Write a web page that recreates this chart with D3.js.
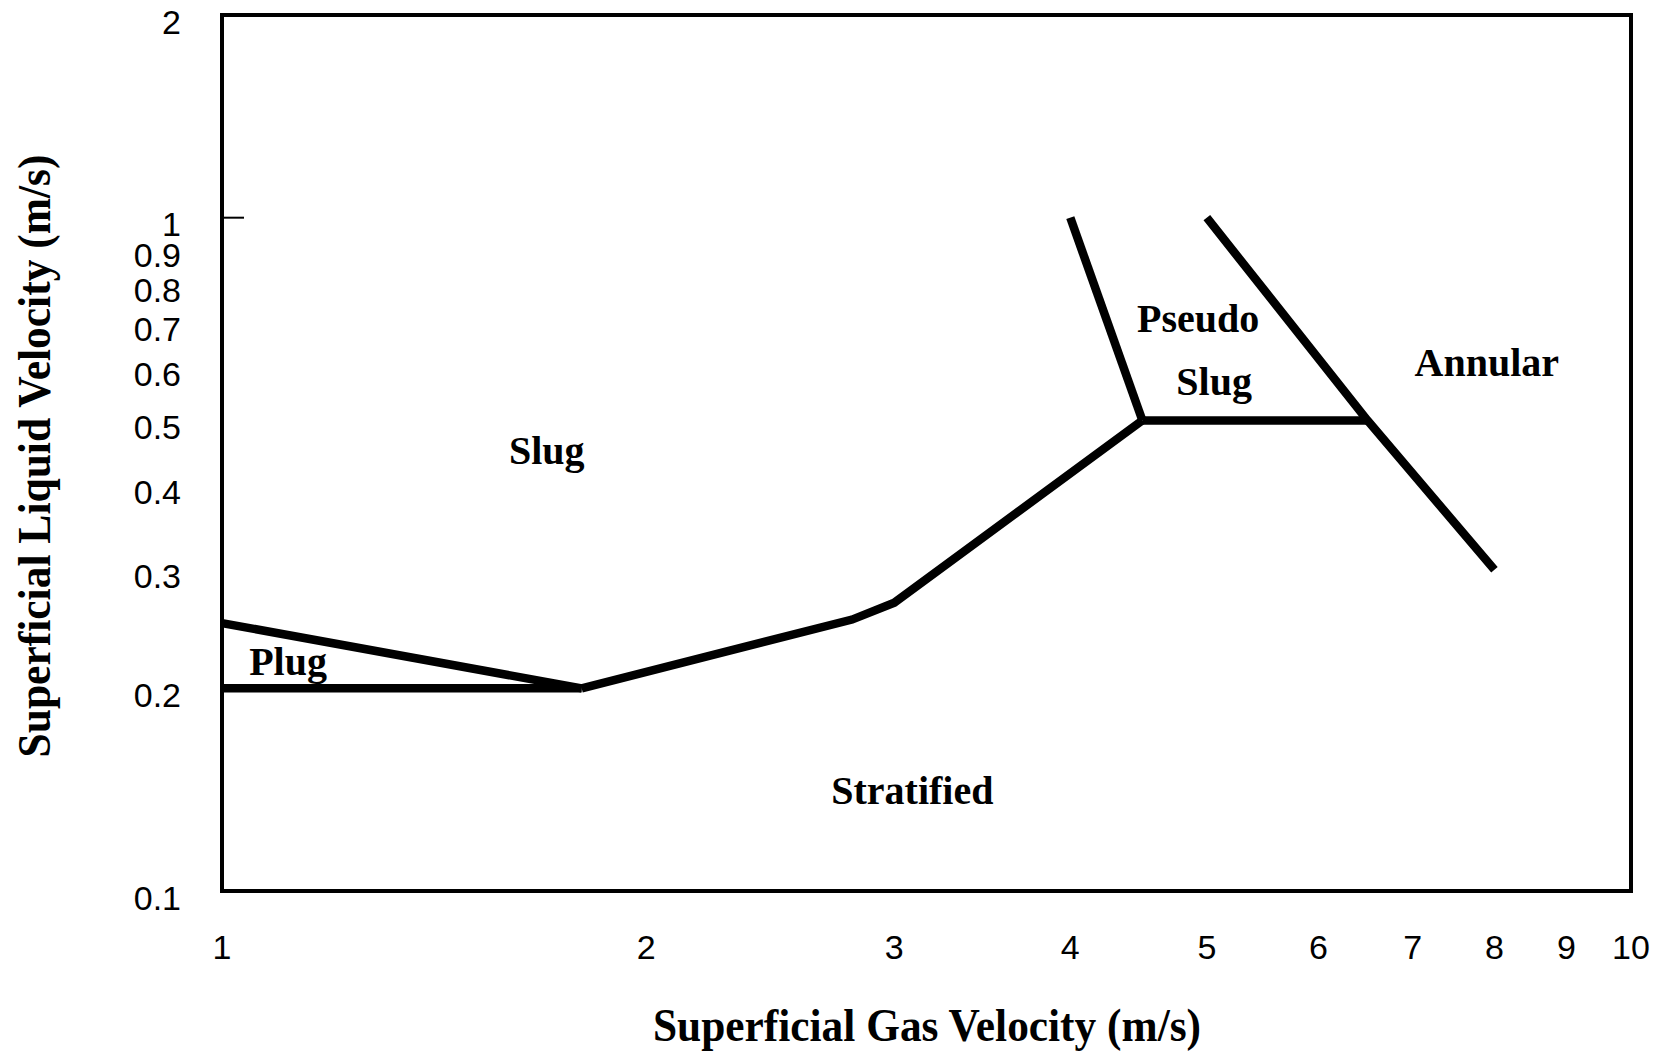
<!DOCTYPE html>
<html>
<head>
<meta charset="utf-8">
<script src="https://cdn.jsdelivr.net/npm/d3@7"></script>
<style>
  body { margin: 0; background: #fff; }
  svg { display: block; }
</style>
</head>
<body>
<script>
// tick values
var xTicks = [1, 2, 3, 4, 5, 6, 7, 8, 9, 10];
var yTicks = [0.1, 0.2, 0.3, 0.4, 0.5, 0.6, 0.7, 0.8, 0.9, 1, 2];

// regime boundaries [gas velocity, liquid velocity]
var plugUpper = [[1, 0.25], [1.8, 0.2]];
var plugLower = [[1, 0.2], [1.8, 0.2]];
var stratBoundary = [[1.8, 0.2], [2.8, 0.253], [3.0, 0.268], [4.5, 0.5]];
var pseudoBase = [[4.5, 0.5], [6.5, 0.5]];
var slugPseudo = [[4.0, 1.0], [4.5, 0.5]];
var annularBoundary = [[5.0, 1.0], [6.5, 0.5], [8.0, 0.3]];

// regime names and where they sit (data coords)
var regimeNames = ["Slug", "Plug", "Stratified", "Pseudo", "Slug", "Annular"];
var regimeX = [1.70, 1.114, 3.09, 4.93, 5.06, 7.90];
var regimeY = [0.431, 0.2094, 0.1347, 0.677, 0.546, 0.582];

var width = 1674, height = 1051;
var margin = {top: 15, right: 43, bottom: 160, left: 222};

var svg = d3.select("body").append("svg")
    .attr("width", width)
    .attr("height", height);

var x = d3.scaleLog()
    .domain([1, 10])
    .range([margin.left, width - margin.right]);
var y = d3.scaleLog()
    .domain([0.1, 2])
    .range([height - margin.bottom, margin.top]);

var sans = "'Liberation Sans', Arial, Helvetica, sans-serif";
var serif = "'Liberation Serif', 'Times New Roman', serif";

// frame
svg.append("rect")
    .attr("x", x(1))
    .attr("y", y(2))
    .attr("width", x(10) - x(1))
    .attr("height", y(0.1) - y(2))
    .attr("fill", "none")
    .attr("stroke", "#000")
    .attr("stroke-width", 4);

// single inward tick at 1
svg.append("line")
    .attr("x1", x(1)).attr("x2", x(1) + 22)
    .attr("y1", y(1)).attr("y2", y(1))
    .attr("stroke", "#000")
    .attr("stroke-width", 2);

// y tick labels
svg.append("g")
    .selectAll("text")
    .data(yTicks)
    .join("text")
    .attr("x", 181)
    .attr("y", d => y(d))
    .attr("dy", "0.55em")
    .attr("text-anchor", "end")
    .style("font", "34px " + sans)
    .text(d => d);

// x tick labels
svg.append("g")
    .selectAll("text")
    .data(xTicks)
    .join("text")
    .attr("x", d => x(d))
    .attr("y", 959)
    .attr("text-anchor", "middle")
    .style("font", "34px " + sans)
    .text(d => d);

// boundaries
var line = d3.line()
    .x(d => x(d[0]))
    .y(d => y(d[1]));

svg.append("g")
    .selectAll("path")
    .data([plugUpper, plugLower, stratBoundary, pseudoBase, slugPseudo, annularBoundary])
    .join("path")
    .attr("d", line)
    .attr("fill", "none")
    .attr("stroke", "#000")
    .attr("stroke-width", 8.5)
    .attr("stroke-linejoin", "miter")
    .attr("stroke-linecap", "butt");

// regime labels
svg.append("g")
    .selectAll("text")
    .data(regimeNames)
    .join("text")
    .attr("x", (d, i) => x(regimeX[i]))
    .attr("y", (d, i) => y(regimeY[i]))
    .attr("text-anchor", "middle")
    .style("font", "bold 40px " + serif)
    .text(d => d);

// axis titles
svg.append("text")
    .attr("x", 927)
    .attr("y", 1041)
    .attr("text-anchor", "middle")
    .attr("textLength", 548)
    .attr("lengthAdjust", "spacingAndGlyphs")
    .style("font", "bold 47px " + serif)
    .text("Superficial Gas Velocity (m/s)");

svg.append("text")
    .attr("transform", "translate(50,456) rotate(-90)")
    .attr("text-anchor", "middle")
    .attr("textLength", 603)
    .attr("lengthAdjust", "spacingAndGlyphs")
    .style("font", "bold 47px " + serif)
    .text("Superficial Liquid Velocity (m/s)");
</script>
</body>
</html>
